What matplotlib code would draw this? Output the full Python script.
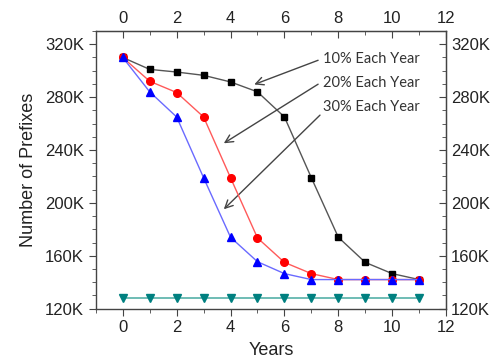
import matplotlib
matplotlib.use("Agg")
import matplotlib.pyplot as plt
from matplotlib.ticker import MultipleLocator, FuncFormatter

# Number of prefixes (thousands) per year under different yearly reduction rates
years = list(range(12))
rate_10 = [310, 301, 299, 296.5, 291.5, 284, 265, 219, 174, 155, 146.5, 142]
rate_20 = [310, 292, 283.5, 265, 219, 173.5, 155, 146.5, 142, 142, 142, 142]
rate_30 = [310, 284, 265, 219, 174, 155.5, 146.5, 142, 142, 142, 142, 142]
baseline = [128] * 12

labels = ["10% Each Year", "20% Each Year", "30% Each Year"]

plt.rcParams["font.family"] = ["Liberation Sans", "DejaVu Sans"]

fig = plt.figure(figsize=(4.94, 3.61), dpi=100)
ax = fig.add_axes([0.194, 0.145, 0.709, 0.769])

ax.plot(years, rate_10, color="#555555", lw=1, marker="s", ms=5,
        mfc="black", mec="black", zorder=3)
ax.plot(years, rate_20, color="#ff5a5a", lw=1, marker="o", ms=5.5,
        mfc="red", mec="red", zorder=4)
ax.plot(years, rate_30, color="#6a6aff", lw=1, marker="^", ms=6,
        mfc="blue", mec="blue", zorder=5)
ax.plot(years, baseline, color="#55b0a8", lw=1.2, marker="v", ms=6,
        mfc="#008080", mec="#008080", zorder=3)

ax.set_xlim(-1, 12)
ax.set_ylim(120, 330)

fmt = FuncFormatter(lambda v, p: f"{int(v)}K")
ax.xaxis.set_major_locator(MultipleLocator(2))
ax.xaxis.set_minor_locator(MultipleLocator(1))
ax.yaxis.set_major_locator(MultipleLocator(40))
ax.yaxis.set_minor_locator(MultipleLocator(10))
ax.yaxis.set_major_formatter(fmt)

ax.set_xticks(range(0, 13, 2))

for s in ax.spines.values():
    s.set_color("#444444")
    s.set_linewidth(1)

ax.tick_params(which="both", direction="out", color="#444444",
               labelsize=12, labelcolor="#222222")
ax.tick_params(which="major", length=5)
ax.tick_params(which="minor", length=3)

top = ax.secondary_xaxis("top")
top.set_xticks(range(0, 13, 2))
top.xaxis.set_minor_locator(MultipleLocator(1))
right = ax.secondary_yaxis("right")
right.yaxis.set_major_locator(MultipleLocator(40))
right.yaxis.set_minor_locator(MultipleLocator(10))
right.yaxis.set_major_formatter(fmt)
for sec in (top, right):
    sec.tick_params(which="both", direction="in", color="#444444",
                    labelsize=12, labelcolor="#222222")
    sec.tick_params(which="major", length=5)
    sec.tick_params(which="minor", length=3)
    for s in sec.spines.values():
        s.set_color("#444444")

ax.set_xlabel("Years", fontsize=13, color="#222222", labelpad=5)
ax.set_ylabel("Number of Prefixes", fontsize=13, color="#222222", labelpad=6)

# Callout labels with arrows pointing at each curve
text_pos = [(7.43, 308.6), (7.43, 290.4), (7.43, 272.2)]
arrow_tail = [(7.25, 307.9), (7.25, 289.8), (7.32, 266.4)]
arrow_head = [(4.88, 289.6), (3.75, 245.1), (3.75, 195.2)]
for lab, tp, tail, head in zip(labels, text_pos, arrow_tail, arrow_head):
    ax.text(tp[0], tp[1], lab, fontsize=10.5, color="#333333",
            family=["Lato", "DejaVu Sans"], ha="left", va="center")
    ax.annotate("", xy=head, xytext=tail,
                arrowprops=dict(arrowstyle="->", color="#444444", lw=1,
                                mutation_scale=14, shrinkA=0, shrinkB=0))

fig.savefig("out.png", dpi=100)
